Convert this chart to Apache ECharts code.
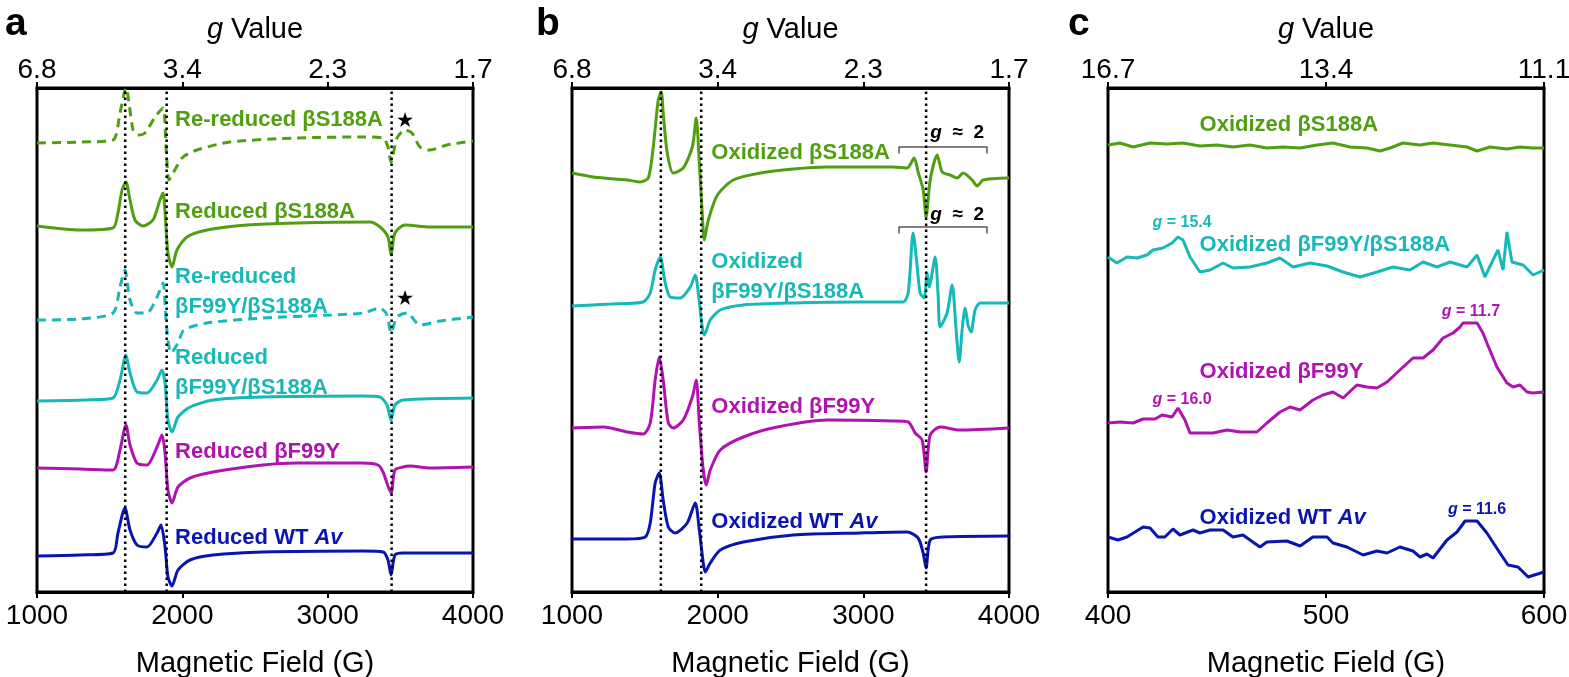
<!DOCTYPE html>
<html style="height: 100%; width: 100%">
  <head>
    <meta charset="utf-8" />
  </head>
  <body style="height: 100%; width: 100%; margin: 0">
    <div id="chart-panel" style="height: 677px; width: 1569px"></div>
    <script
      type="text/javascript"
      src="https://fastly.jsdelivr.net/npm/echarts@6/dist/echarts.min.js"
    ></script>
    <script type="text/javascript">
      var FONT = "Liberation Sans, Arial, sans-serif";
      var GREEN = "#4f9f10";
      var CYAN = "#17b8b8";
      var MAGENTA = "#b013b0";
      var BLUE = "#0a14b0";
      var Y_MAX = 100.8; // arbitrary intensity units, stacked

      // axes
      var fieldTicksAB = [1000, 2000, 3000, 4000];
      var gTicksAB = ["6.8", "3.4", "2.3", "1.7"];
      var fieldTicksC = [400, 500, 600];
      var gTicksC = ["16.7", "13.4", "11.1"];

      // dotted reference lines (G)
      var dottedA = [1607, 1892, 3440];
      var dottedB = [1610, 1887, 3431];

      // panel a: [field (G), intensity (a.u.)]
      var aReReducedS188A = [[1000,0],[1296,0.2],[1523,0.6],[1571,6],[1612,11],[1661,2.6],[1695,1.6],[1743,2],[1812,5.2],[1867,7],[1888,-0.8],[1908,-7.4],[1936,-6],[2005,-2.8],[2101,-1.4],[2328,0.2],[2789,1],[3243,1.2],[3381,1],[3415,-0.8],[3436,-3.8],[3477,1],[3532,2.6],[3580,2],[3635,-0.8],[3704,-1.4],[3821,-0.4],[4000,0.4]];
      var aReducedS188A = [[1000,0.2],[1296,-0.6],[1523,-0.2],[1557,2.8],[1585,7.4],[1612,9],[1640,5.4],[1674,1.4],[1729,0.2],[1798,1.4],[1846,5.4],[1867,6.8],[1881,2.8],[1901,-5.2],[1929,-8],[1963,-4.6],[2032,-2],[2170,-0.6],[2445,0.4],[2789,0.8],[3291,1],[3360,0],[3415,-2],[3436,-5.6],[3463,-1.2],[3532,0.4],[3704,0],[4000,0]];
      var aReReducedDouble = [[1000,0],[1296,0.2],[1523,1.4],[1571,6.6],[1605,10],[1640,4],[1688,1.4],[1757,1.4],[1826,4.6],[1867,7.4],[1888,0],[1901,-4],[1922,-6.6],[1970,-4.6],[2011,-2],[2170,-0.6],[2555,0.4],[3016,1],[3243,1.4],[3360,2.4],[3408,1],[3436,-2.6],[3477,0.6],[3546,1.4],[3635,-1],[3773,-0.2],[4000,0.6]];
      var aReducedDouble = [[1000,0],[1337,0.2],[1523,0.6],[1571,4.2],[1612,9.2],[1640,5.6],[1688,1.8],[1757,1.6],[1826,4.2],[1860,6.2],[1881,3.6],[1901,-3.8],[1929,-6.2],[1970,-3.2],[2053,-1.2],[2211,0.2],[2555,0.8],[3243,1],[3360,0.8],[3408,-0.8],[3436,-3.8],[3463,-0.8],[3518,0.2],[4000,0.6]];
      var aReducedF99Y = [[1000,0],[1296,-0.2],[1523,-0.4],[1571,3.6],[1612,8.6],[1640,4.6],[1688,1],[1757,0.6],[1826,4.2],[1860,6.6],[1881,3],[1901,-4.4],[1929,-7],[1970,-3.8],[2053,-2],[2211,-0.8],[2555,0.6],[2789,1],[3243,1],[3346,0.6],[3381,-0.8],[3436,-5],[3463,-0.4],[3518,0.2],[3566,0.4],[3704,0],[4000,0.2]];
      var aReducedWT = [[1000,0],[1296,0.2],[1523,0.6],[1557,4.6],[1605,9.6],[1640,5.2],[1688,2.2],[1757,1.8],[1826,4.6],[1853,6.2],[1881,1.8],[1901,-4.2],[1929,-6],[1970,-2.8],[2053,-0.8],[2211,0.2],[2555,0.8],[3243,1],[3381,0.8],[3415,-0.8],[3436,-3.8],[3463,0.2],[3518,0.6],[4000,0.6]];
      var offsetsA = [89.8, 73, 54.4, 38.2, 24.8, 7.2];

      // panel b
      var bOxS188A = [[1000,0],[1146,-0.8],[1215,-1],[1380,-1.4],[1469,-1.8],[1524,-1],[1558,5.2],[1592,14.6],[1613,16.2],[1626,12],[1654,4],[1695,0],[1764,1],[1826,5.2],[1853,11],[1874,2],[1894,-8],[1908,-13.4],[1936,-9.4],[1998,-4.4],[2107,-1.4],[2293,0],[2519,0.8],[2752,1.2],[3205,1.2],[3301,1],[3349,3],[3376,0.2],[3411,-3.4],[3431,-8.8],[3459,-1.4],[3507,3.6],[3541,0.2],[3596,-0.4],[3644,-1],[3685,0],[3747,-1.4],[3781,-2.6],[3822,-1.4],[4000,-1]];
      var bOxDouble = [[1000,-0.2],[1263,0.2],[1489,0.6],[1537,2.4],[1571,7],[1606,9.6],[1640,4.4],[1674,1.6],[1743,1.4],[1812,3.6],[1846,6],[1867,2.4],[1894,-4.4],[1908,-6],[1949,-3],[2018,-1],[2176,0],[2519,0.4],[2978,0.6],[3273,0.6],[3308,2.4],[3342,14.4],[3370,7.6],[3390,2.4],[3418,1.4],[3438,6.4],[3452,3.6],[3493,9.6],[3514,1.6],[3527,-4.4],[3575,-1.6],[3610,4],[3637,-5],[3658,-11.4],[3678,-5],[3699,-0.6],[3719,-4],[3740,-5.4],[3767,-1],[3802,0.4],[4000,0.4]];
      var bOxF99Y = [[1000,0],[1215,0.2],[1380,-0.8],[1489,-1.2],[1537,1],[1571,9.6],[1599,14.2],[1626,9.6],[1661,1],[1695,0],[1764,1.6],[1826,6.2],[1853,9.6],[1874,1],[1901,-8.4],[1922,-11.4],[1949,-8.4],[2018,-4.4],[2176,-1.8],[2409,0.2],[2752,1.6],[3205,1.4],[3308,1.2],[3356,-1],[3404,-2.4],[3431,-8.8],[3459,-1.4],[3527,0.2],[3664,-0.4],[4000,0]];
      var bOxWT = [[1000,0],[1380,0],[1503,0.4],[1537,3.2],[1571,11.2],[1599,13.2],[1626,7.8],[1661,2.4],[1709,1.2],[1791,3.2],[1846,7.2],[1874,1.8],[1901,-4.8],[1915,-6.6],[1949,-4.8],[2018,-2.2],[2176,-0.6],[2519,0.8],[2978,1.2],[3301,1.4],[3376,0.2],[3411,-2.8],[3431,-5.8],[3459,-0.2],[3548,0.4],[4000,0.6]];
      var offsetsB = [83.8, 57.4, 32.8, 10.6];

      // panel c
      var cOxS188A = [[400,0],[405.5,0.4],[411.5,-0.4],[419.3,0.4],[427,0.2],[434.4,0.4],[442.2,-0.2],[450,0],[457.3,-0.4],[465.1,0],[472.9,-0.6],[480.3,-0.4],[488.1,-0.6],[495.9,0],[503.2,0.4],[511,-0.4],[518.8,-0.6],[524.8,-1.2],[529.4,-0.6],[535.3,0.4],[543.1,0],[549.1,0.4],[556.9,0],[564.7,-0.4],[569.3,-1.2],[575.2,-0.4],[583,-0.8],[589,-0.4],[595,-0.6],[600,-0.6]];
      var cOxDouble = [[400,0],[404.1,-1.2],[408.7,0],[413.3,-0.2],[417.9,0.4],[420.6,1.4],[425.2,1.8],[429.4,2.8],[432.1,4],[434.4,3.4],[437.6,0],[442.2,-3],[446.8,-2.6],[452.8,-1.2],[457.3,-2.2],[465.1,-2],[472.9,-1.2],[478.9,-0.2],[484.9,-2],[492.7,-1.2],[500.5,-1.8],[507.8,-3],[515.6,-4],[523.4,-3],[530.7,-2],[538.5,-2.6],[544.5,-1],[550.9,-2],[556.9,-1],[564.7,-2],[569.3,0.4],[572.9,-4],[576.6,-0.6],[578.9,1.4],[581.2,-2.6],[583,5],[585.3,-1],[590.4,-1.6],[595,-3.6],[600,-2.6]];
      var cOxF99Y = [[400,0],[405.5,0.2],[411.5,0],[416.1,0.8],[421.6,0.8],[424.8,1.6],[429.4,1.2],[432.1,3],[435.3,0.6],[437.6,-2],[442.2,-2],[448.2,-2],[454.6,-1.4],[460.6,-1.8],[468.3,-1.8],[472.9,0],[478.9,2.2],[483.5,3.2],[488.1,2.6],[494,4.6],[498.6,5.6],[503.2,6.2],[507.8,5],[514.2,7.6],[518.8,7.2],[523.4,7],[528,8.2],[533.9,10.6],[539.9,13],[544.5,13],[549.1,14.6],[553.7,17],[558.3,18],[561.5,19.2],[562.8,20],[569.3,20],[572,18],[573.8,16],[578.4,11.2],[583,8],[585.8,7.2],[589,7.6],[592.2,6.2],[594.9,6],[600,6.2]];
      var cOxWT = [[400,0],[404.6,-0.6],[408.7,0],[416.1,2],[419.3,1.8],[422.9,0],[426.1,0],[429.8,1.6],[433,0.4],[439,1.4],[442.2,0.8],[446.8,1.4],[452.8,1.4],[457.3,0],[461.9,0.4],[469.7,-2],[472.9,-1],[482.1,-0.8],[488.1,-1.8],[494,0],[500.5,0],[503.2,-1.2],[509.6,-2],[517,-3.6],[523.4,-2.8],[528,-3.2],[533.9,-2],[539.9,-2.8],[543.1,-4],[546.3,-3.4],[549.1,-4.2],[555.5,-0.6],[560.1,1],[563.8,3.2],[569.3,3.2],[573.8,0.8],[578.9,-2.6],[583.5,-5.6],[588.1,-6],[592.7,-8],[600,-7]];
      var offsetsC = [89.4, 67, 33.8, 11];

      // text labels: [text, field, y, color]  (*...* = italic)
      var labelsA = [
        ["Re-reduced βS188A", 1950, 94.4, GREEN],
        ["Reduced βS188A", 1950, 76, GREEN],
        ["Re-reduced\nβF99Y/βS188A", 1950, 60, CYAN],
        ["Reduced\nβF99Y/βS188A", 1950, 43.8, CYAN],
        ["Reduced βF99Y", 1950, 28, MAGENTA],
        ["Reduced WT *Av*", 1950, 10.8, BLUE],
      ];
      var starsA = [[3532, 94.2], [3532, 58.6]];
      var labelsB = [
        ["Oxidized βS188A", 1956, 87.8, GREEN],
        ["Oxidized\nβF99Y/βS188A", 1956, 63, CYAN],
        ["Oxidized βF99Y", 1956, 37, MAGENTA],
        ["Oxidized WT *Av*", 1956, 14, BLUE],
      ];
      var bracketsB = [[3245, 3849, 89], [3245, 3849, 73]];
      var bracketLabelsB = [["*g*  ≈  2", 3644, 91.8], ["*g*  ≈  2", 3644, 75.4]];
      var labelsC = [
        ["Oxidized βS188A", 442, 93.4, GREEN],
        ["Oxidized βF99Y/βS188A", 442, 69.4, CYAN],
        ["Oxidized βF99Y", 442, 44, MAGENTA],
        ["Oxidized WT *Av*", 442, 14.8, BLUE],
      ];
      var gLabelsC = [
        ["*g* = 15.4", 434, 73.8, CYAN],
        ["*g* = 11.7", 566.5, 56, MAGENTA],
        ["*g* = 16.0", 434, 38.4, MAGENTA],
        ["*g* = 11.6", 569.3, 16.4, BLUE],
      ];

      var dom = document.getElementById("chart-panel");
      var myChart = echarts.init(dom);

      function toRich(text) {
        return text
          .split("*")
          .map(function (s, i) {
            if (!s) return "";
            return "{" + (i % 2 ? "i" : "n") + "|" + s + "}";
          })
          .join("");
      }

      function richStyle(color, size) {
        var base = {
          color: color,
          opacity: 1,
          fontSize: size,
          fontWeight: "bold",
          fontFamily: FONT,
          lineHeight: size + 8,
          textBorderWidth: 0,
        };
        return { n: base, i: Object.assign({}, base, { fontStyle: "italic" }) };
      }

      function shift(data, off) {
        return data.map(function (p) {
          return [p[0], p[1] + off];
        });
      }

      function makeXAxes(gi, min, max, interval, ticks, gTicks) {
        var common = {
          gridIndex: gi,
          type: "value",
          min: min,
          max: max,
          interval: interval,
          axisLine: { show: true, onZero: false, lineStyle: { color: "#000", width: 3 } },
          axisTick: { show: true, inside: false, length: 6, lineStyle: { color: "#000", width: 2 } },
          splitLine: { show: false },
          nameLocation: "middle",
        };
        var bottom = Object.assign({}, common, {
          position: "bottom",
          axisLabel: {
            color: "#000",
            fontSize: 28,
            fontFamily: FONT,
            margin: 10,
            formatter: function (v) {
              return String(v);
            },
          },
          name: "Magnetic Field (G)",
          nameGap: 57,
          nameTextStyle: { color: "#000", fontSize: 29, fontFamily: FONT },
        });
        var top = Object.assign({}, common, {
          position: "top",
          axisLabel: {
            color: "#000",
            fontSize: 28,
            fontFamily: FONT,
            margin: 4,
            formatter: function (v) {
              var i = ticks.indexOf(v);
              return i < 0 ? "" : gTicks[i];
            },
          },
          name: "{i|g} Value",
          nameGap: 44,
          nameTextStyle: {
            color: "#000",
            fontSize: 29,
            fontFamily: FONT,
            rich: { i: { fontStyle: "italic", fontSize: 29, fontFamily: FONT, color: "#000" } },
          },
        });
        return [bottom, top];
      }

      var xAxes = []
        .concat(makeXAxes(0, 1000, 4000, 1000, fieldTicksAB, gTicksAB))
        .concat(makeXAxes(1, 1000, 4000, 1000, fieldTicksAB, gTicksAB))
        .concat(makeXAxes(2, 400, 600, 100, fieldTicksC, gTicksC));

      var yAxes = [0, 1, 2].map(function (gi) {
        return {
          gridIndex: gi,
          type: "value",
          min: 0,
          max: Y_MAX,
          show: false,
        };
      });

      var series = [];

      function addTrace(gi, data, off, color, dashed, smooth) {
        series.push({
          type: "line",
          xAxisIndex: gi * 2,
          yAxisIndex: gi,
          data: shift(data, off),
          showSymbol: false,
          smooth: smooth,
          silent: true,
          lineStyle: { color: color, width: 3, type: dashed ? [9, 6] : "solid" },
        });
      }

      function addDotted(gi, list) {
        list.forEach(function (v) {
          series.push({
            type: "line",
            xAxisIndex: gi * 2,
            yAxisIndex: gi,
            data: [[v, 0], [v, Y_MAX]],
            showSymbol: false,
            silent: true,
            z: 5,
            lineStyle: { color: "#000", width: 2.5, type: [2.5, 3.5] },
          });
        });
      }

      function addLabels(gi, list, size, centered) {
        series.push({
          type: "scatter",
          xAxisIndex: gi * 2,
          yAxisIndex: gi,
          symbolSize: 0.1,
          silent: true,
          z: 6,
          itemStyle: { color: "#fff", opacity: 1 },
          data: list.map(function (l) {
            return {
              value: [l[1], l[2]],
              label: {
                show: true,
                position: centered ? "inside" : "right",
                distance: 0,
                align: centered ? "center" : "left",
                verticalAlign: "middle",
                opacity: 1,
                textBorderWidth: 0,
                formatter: toRich(l[0]),
                rich: richStyle(l[3] || "#000", size),
              },
            };
          }),
        });
      }

      var colorsA = [GREEN, GREEN, CYAN, CYAN, MAGENTA, BLUE];
      var dashA = [true, false, true, false, false, false];
      [aReReducedS188A, aReducedS188A, aReReducedDouble, aReducedDouble, aReducedF99Y, aReducedWT].forEach(
        function (d, i) {
          addTrace(0, d, offsetsA[i], colorsA[i], dashA[i], 0.25);
        }
      );
      var colorsBC = [GREEN, CYAN, MAGENTA, BLUE];
      [bOxS188A, bOxDouble, bOxF99Y, bOxWT].forEach(function (d, i) {
        addTrace(1, d, offsetsB[i], colorsBC[i], false, 0.25);
      });
      [cOxS188A, cOxDouble, cOxF99Y, cOxWT].forEach(function (d, i) {
        addTrace(2, d, offsetsC[i], colorsBC[i], false, false);
      });

      addDotted(0, dottedA);
      addDotted(1, dottedB);

      // g ~ 2 brackets
      bracketsB.forEach(function (b) {
        series.push({
          type: "line",
          xAxisIndex: 2,
          yAxisIndex: 1,
          data: [[b[0], b[2] - 1.3], [b[0], b[2]], [b[1], b[2]], [b[1], b[2] - 1.3]],
          showSymbol: false,
          silent: true,
          lineStyle: { color: "#555", width: 1.5 },
        });
      });

      addLabels(0, labelsA, 22, false);
      addLabels(
        0,
        starsA.map(function (s) {
          return ["★", s[0], s[1], "#000"];
        }),
        18,
        true
      );
      addLabels(1, labelsB, 22, false);
      addLabels(
        1,
        bracketLabelsB.map(function (s) {
          return [s[0], s[1], s[2], "#000"];
        }),
        19,
        true
      );
      addLabels(2, labelsC, 22, false);
      addLabels(2, gLabelsC, 16, true);

      var gridBase = { top: 88, height: 504, show: true, borderColor: "#000", borderWidth: 3, outerBoundsMode: "none" };

      var option = {
        animation: false,
        backgroundColor: "#fff",
        title: [
          { text: "a", left: 0, top: 0, textStyle: { fontSize: 39, fontWeight: "bold", fontFamily: FONT, color: "#000" } },
          { text: "b", left: 531, top: 0, textStyle: { fontSize: 39, fontWeight: "bold", fontFamily: FONT, color: "#000" } },
          { text: "c", left: 1063, top: 0, textStyle: { fontSize: 39, fontWeight: "bold", fontFamily: FONT, color: "#000" } },
        ],
        grid: [
          Object.assign({ left: 37, width: 436 }, gridBase),
          Object.assign({ left: 572, width: 437 }, gridBase),
          Object.assign({ left: 1108, width: 436 }, gridBase),
        ],
        xAxis: xAxes,
        yAxis: yAxes,
        series: series,
      };

      if (option && typeof option === "object") {
        myChart.setOption(option);
      }
    </script>
  </body>
</html>
